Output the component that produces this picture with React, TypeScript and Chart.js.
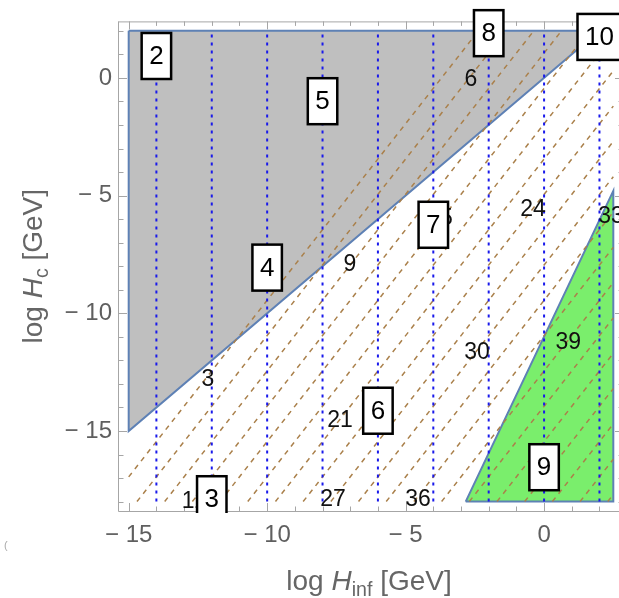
import React, { useEffect, useRef } from 'react';
import { Chart, registerables } from 'chart.js';

Chart.register(...registerables);

const FONT = '"Liberation Sans", Arial, sans-serif';

// axis ranges
const X_MIN = -15.35;
const X_MAX = 2.85;
const Y_MIN = -18.4;
const Y_MAX = 2.4;

// labelled ticks
const xTickValues = [-15, -10, -5, 0];
const yTickValues = [-15, -10, -5, 0];

// gray (excluded) region polygon
const grayRegionX = [-15, -15, 2, -15];
const grayRegionY = [2, -15, 2, 2];

// green (allowed) region polygon
const greenRegionX = [-2.83, 2.5, 2.5, -2.83];
const greenRegionY = [-18, -18, -4.8, -18];

// vertical blue dotted lines and their boxed labels
const dottedLineX = [-14, -12, -10, -8, -6, -4, -2, 0, 2];
const dottedLineBottom = [-18, -18, -18, -18, -18, -18, -18, -18, -18];
const dottedLineTop = [2, 2, 2, 2, 2, 2, 2, 2, 2];
const dottedBoxText = ['2', '3', '4', '5', '6', '7', '8', '9', '10'];
const dottedBoxY = [0.93, -17.9, -8.06, -0.99, -14.14, -6.24, 1.9, -16.54, 1.74];

// brown dashed contour lines (levels 3, 6, ..., 57): end points
const contourLevels = [3, 6, 9, 12, 15, 18, 21, 24, 27, 30, 33, 36, 39, 42, 45, 48, 51, 54, 57];
const contourStartX = [-15, -14.7, -13.7, -12.7, -11.7, -10.7, -9.7, -8.7, -7.7, -6.7, -5.7, -4.7, -3.7, -2.7, -1.7, -0.7, 0.3, 1.3, 2.3];
const contourStartY = [-16.95, -18, -18, -18, -18, -18, -18, -18, -18, -18, -18, -18, -18, -18, -18, -18, -18, -18, -18];
const contourEndX = [-2.37, -1.37, -0.37, 0.63, 1.63, 2.5, 2.5, 2.5, 2.5, 2.5, 2.5, 2.5, 2.5, 2.5, 2.5, 2.5, 2.5, 2.5, 2.5];
const contourEndY = [2, 2, 2, 2, 2, 1.8, 0.3, -1.2, -2.7, -4.2, -5.7, -7.2, -8.7, -10.2, -11.7, -13.2, -14.7, -16.2, -17.7];

// contour labels
const contourLabelText = ['3', '9', '6', '15', '24', '33', '39', '30', '21', '27', '36', '12'];
const contourLabelX = [-12.14, -7.01, -2.64, -3.76, -0.4, 2.42, 0.87, -2.42, -7.37, -7.62, -4.55, -12.62];
const contourLabelY = [-12.78, -7.9, -0.04, -5.95, -5.54, -5.87, -11.21, -11.62, -14.51, -17.86, -17.86, -17.95];

const fmtTick = (v: number) => (v < 0 ? '\u2212 ' + Math.abs(v) : String(v));

type Seg = { t: string; it?: boolean; sub?: boolean };
const xTitle: Seg[] = [{ t: 'log ' }, { t: 'H', it: true }, { t: 'inf', sub: true }, { t: ' [GeV]' }];
const yTitle: Seg[] = [{ t: 'log ' }, { t: 'H', it: true }, { t: 'c', sub: true }, { t: ' [GeV]' }];

function drawRich(ctx: CanvasRenderingContext2D, segs: Seg[], size: number) {
  const fontFor = (s: Seg) =>
    `${s.it ? 'italic ' : ''}${s.sub ? size * 0.7 : size}px ${FONT}`;
  let total = 0;
  const widths = segs.map((s) => {
    ctx.font = fontFor(s);
    const w = ctx.measureText(s.t).width;
    total += w;
    return w;
  });
  let x = -total / 2;
  ctx.textAlign = 'left';
  ctx.textBaseline = 'alphabetic';
  segs.forEach((s, i) => {
    ctx.font = fontFor(s);
    ctx.fillText(s.t, x, s.sub ? size * 0.22 : 0);
    x += widths[i];
  });
}

const overlayPlugin = {
  id: 'overlay',
  afterDatasetsDraw(chart: any) {
    const ctx: CanvasRenderingContext2D = chart.ctx;
    const xs = chart.scales.x;
    const ys = chart.scales.y;
    const { left, right, top, bottom } = chart.chartArea;
    ctx.save();

    // frame
    ctx.strokeStyle = '#a6a6a6';
    ctx.lineWidth = 1;
    ctx.beginPath();
    ctx.moveTo(left - 0.5, top + 0.5);
    ctx.lineTo(right, top + 0.5);
    ctx.moveTo(left - 0.5, top);
    ctx.lineTo(left - 0.5, bottom + 0.5);
    ctx.lineTo(right, bottom + 0.5);
    ctx.moveTo(right - 0.5, top);
    ctx.lineTo(right - 0.5, bottom);
    ctx.stroke();

    // ticks (inward)
    ctx.beginPath();
    for (let v = Math.ceil(X_MIN); v <= Math.floor(X_MAX); v++) {
      const px = Math.round(xs.getPixelForValue(v)) + 0.5;
      const len = v % 5 === 0 ? 8 : 4.5;
      ctx.moveTo(px, bottom);
      ctx.lineTo(px, bottom - len);
      ctx.moveTo(px, top);
      ctx.lineTo(px, top + len);
    }
    for (let v = Math.ceil(Y_MIN); v <= Math.floor(Y_MAX); v++) {
      const py = Math.round(ys.getPixelForValue(v)) + 0.5;
      const len = v % 5 === 0 ? 8 : 4.5;
      ctx.moveTo(left, py);
      ctx.lineTo(left + len, py);
      ctx.moveTo(right, py);
      ctx.lineTo(right - len, py);
    }
    ctx.stroke();

    // contour labels
    ctx.fillStyle = '#111';
    ctx.font = `23px ${FONT}`;
    ctx.textAlign = 'center';
    ctx.textBaseline = 'middle';
    contourLabelText.forEach((t, i) => {
      ctx.fillText(t, xs.getPixelForValue(contourLabelX[i]), ys.getPixelForValue(contourLabelY[i]) + 1);
    });

    // boxed labels
    ctx.save();
    ctx.beginPath();
    ctx.rect(0, -50, chart.width, bottom + 52);
    ctx.clip();
    ctx.font = `26px ${FONT}`;
    dottedBoxText.forEach((t, i) => {
      const cx = xs.getPixelForValue(dottedLineX[i]);
      const cy = ys.getPixelForValue(dottedBoxY[i]);
      const w = ctx.measureText(t).width + 15;
      const h = 46;
      ctx.fillStyle = '#fff';
      ctx.fillRect(cx - w / 2, cy - h / 2, w, h);
      ctx.strokeStyle = '#000';
      ctx.lineWidth = 2.5;
      ctx.strokeRect(cx - w / 2, cy - h / 2, w, h);
      ctx.fillStyle = '#000';
      ctx.textAlign = 'center';
      ctx.textBaseline = 'middle';
      ctx.fillText(t, cx, cy + 1);
    });
    ctx.restore();

    // axis titles
    ctx.fillStyle = '#666';
    ctx.save();
    ctx.translate(369, 590);
    drawRich(ctx, xTitle, 28);
    ctx.restore();
    ctx.save();
    ctx.translate(42, (top + bottom) / 2);
    ctx.rotate(-Math.PI / 2);
    drawRich(ctx, yTitle, 28);
    ctx.restore();

    // small stray glyph at lower left
    ctx.fillStyle = '#aaa';
    ctx.font = `11px ${FONT}`;
    ctx.textAlign = 'left';
    ctx.textBaseline = 'middle';
    ctx.fillText('(', 4, 546);

    ctx.restore();
  },
};

const pts = (xs: number[], ys: number[]) => xs.map((x, i) => ({ x, y: ys[i] }));

export default function App() {
  const ref = useRef<HTMLCanvasElement | null>(null);

  useEffect(() => {
    document.body.style.margin = '0';
    const canvas = ref.current;
    if (!canvas) return;

    const datasets: any[] = [];
    datasets.push({
      data: pts(grayRegionX, grayRegionY),
      showLine: true,
      fill: 'shape',
      backgroundColor: 'rgb(191,191,191)',
      borderColor: '#5E81B5',
      borderWidth: 2,
      pointRadius: 0,
      order: 10,
    });
    datasets.push({
      data: pts(greenRegionX, greenRegionY),
      showLine: true,
      fill: 'shape',
      backgroundColor: 'rgb(122,238,108)',
      borderColor: '#5E81B5',
      borderWidth: 2,
      pointRadius: 0,
      order: 9,
    });
    contourLevels.forEach((_, i) => {
      datasets.push({
        data: [
          { x: contourStartX[i], y: contourStartY[i] },
          { x: contourEndX[i], y: contourEndY[i] },
        ],
        showLine: true,
        borderColor: 'rgb(170,128,75)',
        borderWidth: 1.5,
        borderDash: [5, 5],
        pointRadius: 0,
        fill: false,
        order: 6,
      });
    });
    dottedLineX.forEach((x, i) => {
      datasets.push({
        data: [
          { x, y: dottedLineBottom[i] },
          { x, y: dottedLineTop[i] },
        ],
        showLine: true,
        borderColor: 'rgb(25,25,235)',
        borderWidth: 2,
        borderDash: [3, 5],
        borderCapStyle: 'butt',
        pointRadius: 0,
        fill: false,
        order: 5,
      });
    });

    const chart = new Chart(canvas, {
      type: 'scatter',
      data: { datasets },
      options: {
        animation: false,
        responsive: false,
        events: [],
        layout: { padding: { top: 8, right: 7, left: 0, bottom: 0 } },
        plugins: { legend: { display: false }, tooltip: { enabled: false } },
        scales: {
          x: {
            type: 'linear',
            min: X_MIN,
            max: X_MAX,
            grid: { display: false, drawTicks: false },
            border: { display: false },
            ticks: {
              color: '#5f5f5f',
              font: { family: FONT, size: 24 },
              padding: 10,
              maxRotation: 0,
              autoSkip: false,
              callback: (v: any) => fmtTick(Number(v)),
            },
            afterBuildTicks: (s: any) => {
              s.ticks = xTickValues.map((value) => ({ value }));
            },
            afterFit: (s: any) => {
              s.height = 87;
            },
          },
          y: {
            type: 'linear',
            min: Y_MIN,
            max: Y_MAX,
            grid: { display: false, drawTicks: false },
            border: { display: false },
            ticks: {
              color: '#5f5f5f',
              font: { family: FONT, size: 24 },
              padding: 7,
              autoSkip: false,
              callback: (v: any) => fmtTick(Number(v)),
            },
            afterBuildTicks: (s: any) => {
              s.ticks = yTickValues.map((value) => ({ value }));
            },
            afterFit: (s: any) => {
              s.width = 119;
            },
          },
        },
      } as any,
      plugins: [overlayPlugin],
    });
    return () => chart.destroy();
  }, []);

  return (
    <div style={{ width: 619, height: 598, overflow: 'hidden', position: 'relative' }}>
      <canvas ref={ref} width={630} height={598} style={{ display: 'block', width: 630, height: 598 }} />
    </div>
  );
}
